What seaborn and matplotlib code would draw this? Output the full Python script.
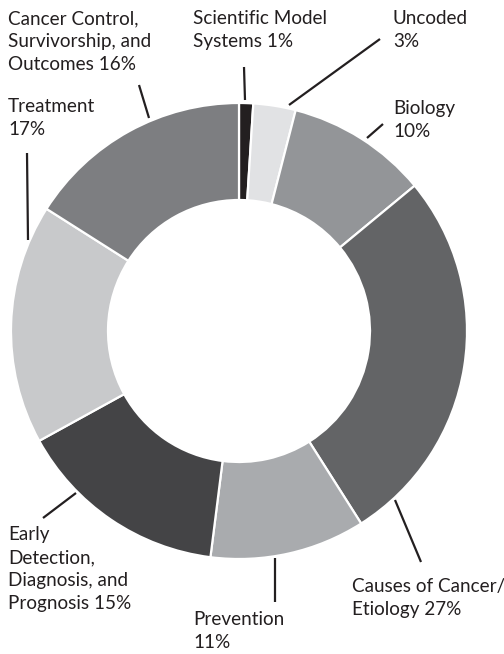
import matplotlib
matplotlib.use("Agg")
import matplotlib.pyplot as plt
import seaborn as sns

# data (clockwise from 12 o'clock)
categories = ["Scientific Model\nSystems", "Uncoded", "Biology", "Causes of Cancer/\nEtiology",
              "Prevention", "Early\nDetection,\nDiagnosis, and\nPrognosis", "Treatment",
              "Cancer Control,\nSurvivorship, and\nOutcomes"]
shares = [1, 3, 10, 27, 11, 15, 17, 16]
colors = ["#231f20", "#e1e2e4", "#939598", "#636466", "#a9abae", "#444446", "#c8c9cb", "#7d7e81"]

# label text as it appears (share on last line or new line)
label_texts = ["Scientific Model\nSystems 1%", "Uncoded\n3%", "Biology\n10%",
               "Causes of Cancer/\nEtiology 27%", "Prevention\n11%",
               "Early\nDetection,\nDiagnosis, and\nPrognosis 15%", "Treatment\n17%",
               "Cancer Control,\nSurvivorship, and\nOutcomes 16%"]

# layout in pixels (top-left origin): label anchor and leader line ends
W, H = 504, 654
label_pos = [(193, 10), (393, 10), (393, 100), (352, 578), (193, 611), (8, 526), (8, 98), (8, 10)]
leaders = [((244, 67), (245, 100)), ((380, 39), (289, 105)), ((383, 124), (367, 138)),
           ((395, 500), (421, 562)), ((275, 558), (275, 602)), ((43, 518), (76, 493)),
           ((27, 153), (28, 240)), ((139, 85), (149, 118))]
center_px = (239, 331)
radius_px = 228
ring_width = 97

sns.set_style("white")
plt.rcParams["font.family"] = ["Lato", "DejaVu Sans"]

fig = plt.figure(figsize=(W / 100, H / 100), dpi=100)
ax = fig.add_axes([0, 0, 1, 1])

ax.pie(shares, colors=colors, startangle=90, counterclock=False,
       center=(center_px[0], H - center_px[1]), radius=radius_px,
       wedgeprops=dict(width=ring_width, edgecolor="white", linewidth=1.6))

ax.set_xlim(0, W)
ax.set_ylim(0, H)
ax.set_aspect("equal")
ax.axis("off")

for txt, (x, y) in zip(label_texts, label_pos):
    ax.text(x, H - y, txt, ha="left", va="top", fontsize=13.6, color="#231f20",
            linespacing=1.44)

for (x0, y0), (x1, y1) in leaders:
    ax.plot([x0, x1], [H - y0, H - y1], color="#231f20", lw=1.6, solid_capstyle="butt")

fig.savefig("out.png", dpi=100)
